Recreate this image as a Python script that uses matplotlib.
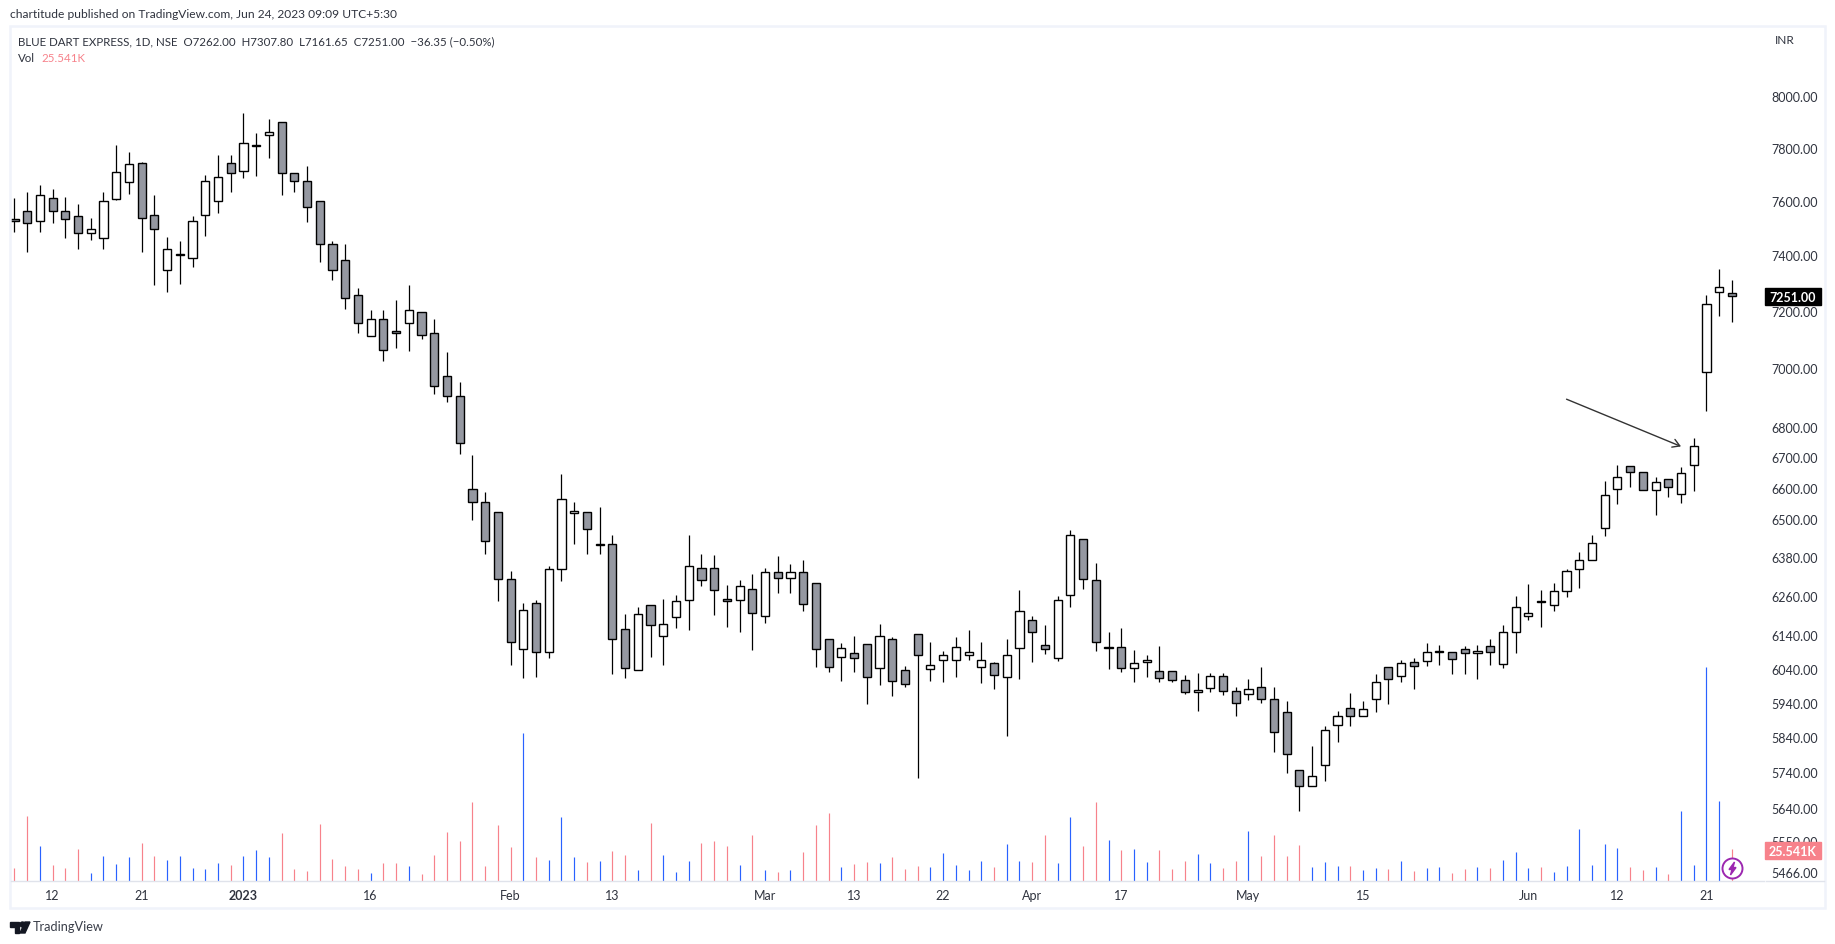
import matplotlib
matplotlib.use("Agg")
import matplotlib.pyplot as plt
from matplotlib.patches import Rectangle, Ellipse, Polygon
from matplotlib.lines import Line2D
from matplotlib.ticker import FixedLocator, FixedFormatter, NullLocator

W, H = 1835, 945

opens = [7533, 7563, 7526, 7611, 7563, 7541, 7481, 7463, 7607, 7671,
         7743, 7548, 7347, 7398, 7390, 7548, 7600, 7743, 7712, 7808,
         7850, 7900, 7705, 7675, 7600, 7441, 7383, 7257, 7111, 7172,
         7127, 7158, 7197, 7123, 6974, 6906, 6598, 6556, 6524, 6313,
         6097, 6239, 6088, 6344, 6518, 6524, 6419, 6420, 6160, 6037,
         6233, 6136, 6194, 6248, 6347, 6347, 6251, 6248, 6282, 6197,
         6332, 6316, 6332, 6298, 6127, 6076, 6085, 6112, 6043, 6127,
         6037, 6145, 6040, 6067, 6067, 6079, 6046, 6058, 6014, 6100,
         6187, 6109, 6073, 6261, 6438, 6307, 6100, 6103, 6043, 6061,
         6034, 6034, 6005, 5970, 5982, 6017, 5973, 5964, 5987, 5952,
         5914, 5748, 5701, 5762, 5874, 5923, 5900, 5952, 6046, 6017,
         6061, 6064, 6088, 6088, 6097, 6085, 6106, 6055, 6151, 6197,
         6244, 6233, 6276, 6344, 6372, 6473, 6598, 6673, 6653, 6595,
         6628, 6582, 6676, 6988, 7265, 7262]
highs = [7611, 7633, 7660, 7645, 7615, 7589, 7537, 7633, 7812, 7785,
         7745, 7622, 7467, 7449, 7544, 7697, 7773, 7773, 7935, 7857,
         7911, 7900, 7705, 7731, 7600, 7449, 7438, 7282, 7202, 7202,
         7237, 7291, 7197, 7172, 7057, 6951, 6709, 6588, 6524, 6335,
         6239, 6248, 6353, 6644, 6556, 6524, 6540, 6449, 6203, 6224,
         6233, 6251, 6261, 6448, 6391, 6385, 6292, 6307, 6326, 6347,
         6382, 6357, 6372, 6298, 6127, 6116, 6136, 6112, 6175, 6133,
         6049, 6145, 6118, 6091, 6133, 6157, 6118, 6061, 6127, 6279,
         6197, 6172, 6258, 6464, 6438, 6360, 6151, 6163, 6094, 6079,
         6106, 6034, 6020, 6028, 6028, 6026, 5985, 6008, 6046, 5987,
         5946, 5748, 5814, 5871, 5917, 5967, 5946, 6023, 6046, 6067,
         6073, 6115, 6109, 6088, 6106, 6109, 6127, 6171, 6258, 6295,
         6279, 6298, 6344, 6397, 6448, 6624, 6676, 6673, 6653, 6637,
         6628, 6667, 6765, 7257, 7348, 7307.8]
lows = [7484, 7411, 7484, 7517, 7462, 7422, 7455, 7422, 7601, 7623,
        7411, 7292, 7267, 7295, 7356, 7469, 7554, 7632, 7685, 7692,
        7761, 7621, 7632, 7521, 7375, 7310, 7206, 7121, 7111, 7025,
        7069, 7059, 7100, 6912, 6885, 6712, 6498, 6390, 6244, 6051,
        6013, 6016, 6072, 6306, 6422, 6390, 6390, 6025, 6011, 6037,
        6075, 6051, 6162, 6156, 6291, 6202, 6165, 6150, 6096, 6178,
        6269, 6269, 6214, 6045, 6031, 6004, 6031, 5937, 5992, 5960,
        5986, 5724, 6004, 6001, 6016, 6066, 5998, 5981, 5844, 6010,
        6060, 6084, 6063, 6226, 6281, 6093, 6039, 6031, 6001, 6016,
        6001, 6001, 5966, 5916, 5970, 5961, 5901, 5948, 5940, 5798,
        5739, 5631, 5701, 5716, 5827, 5873, 5900, 5913, 5937, 6001,
        5981, 6048, 6051, 6025, 6025, 6010, 6051, 6043, 6087, 6186,
        6165, 6214, 6257, 6285, 6372, 6445, 6549, 6602, 6592, 6514,
        6571, 6550, 6591, 6855, 7182, 7161.65]
closes = [7526, 7515, 7622, 7563, 7533, 7481, 7496, 7600, 7709, 7739,
          7537, 7496, 7423, 7405, 7526, 7675, 7690, 7705, 7819, 7812,
          7861, 7705, 7675, 7577, 7441, 7347, 7246, 7158, 7172, 7063,
          7123, 7201, 7116, 6940, 6906, 6746, 6556, 6429, 6313, 6118,
          6215, 6088, 6344, 6566, 6527, 6470, 6420, 6127, 6043, 6203,
          6172, 6175, 6245, 6353, 6310, 6279, 6245, 6289, 6206, 6332,
          6316, 6332, 6236, 6097, 6046, 6100, 6073, 6014, 6136, 6002,
          5996, 6079, 6052, 6079, 6103, 6088, 6067, 6020, 6079, 6212,
          6151, 6097, 6248, 6448, 6313, 6118, 6103, 6043, 6058, 6067,
          6011, 6005, 5970, 5976, 6017, 5973, 5938, 5979, 5952, 5856,
          5791, 5701, 5731, 5862, 5900, 5900, 5920, 5999, 6008, 6058,
          6049, 6088, 6091, 6070, 6085, 6091, 6088, 6151, 6224, 6206,
          6242, 6276, 6338, 6372, 6423, 6576, 6637, 6653, 6595, 6621,
          6602, 6650, 6739, 7225, 7286, 7251]
# thousands of shares
volumes = [10.7, 52.7, 28.5, 13.2, 10.7, 26.1, 6.7, 20.4, 14.0, 19.6,
           30.9, 20.4, 17.2, 20.4, 10.7, 9.9, 14.8, 13.2, 20.4, 25.3,
           19.6, 39.0, 9.9, 8.3, 46.2, 18.0, 12.4, 9.9, 6.7, 14.8,
           14.8, 12.4, 5.9, 21.2, 39.8, 32.5, 64.0, 12.4, 45.4, 27.7,
           119.6, 19.6, 17.2, 51.9, 19.6, 15.6, 16.4, 24.5, 21.2, 9.1,
           47.0, 21.2, 7.5, 16.4, 30.9, 32.5, 28.5, 13.2, 37.3, 9.1,
           7.5, 9.1, 23.6, 45.4, 55.1, 11.6, 14.0, 15.6, 14.8, 19.6,
           9.9, 12.4, 11.6, 22.8, 13.2, 9.1, 16.4, 11.6, 30.1, 16.4,
           15.6, 37.3, 14.8, 51.9, 28.5, 64.0, 33.3, 25.3, 26.1, 15.6,
           25.3, 9.9, 16.4, 22.0, 14.8, 10.7, 16.4, 40.6, 20.4, 37.3,
           20.4, 29.3, 11.6, 15.6, 12.4, 12.4, 9.1, 10.7, 9.9, 16.4,
           8.3, 10.7, 11.6, 6.7, 9.9, 11.6, 10.7, 17.2, 23.6, 10.7,
           11.6, 7.5, 12.4, 42.2, 13.2, 30.1, 26.9, 11.6, 9.1, 11.6,
           5.9, 56.7, 13.2, 172.8, 64.8, 25.541]

price_ticks = [8000, 7800, 7600, 7400, 7200, 7000, 6800, 6700, 6600, 6500, 6380,
               6260, 6140, 6040, 5940, 5840, 5740, 5640, 5550, 5466]
date_idx = [3, 10, 18, 28, 39, 47, 59, 66, 73, 80, 87, 97, 106, 119, 126, 133]
date_labels = ["12", "21", "2023", "16", "Feb", "13", "Mar", "13", "22", "Apr",
               "17", "May", "15", "Jun", "12", "21"]

TEXT = "#2f333e"
GRAY = "#9598a1"
BLUE = "#2962ff"
RED = "#f7828b"
FRAME = "#f0f3fa"
PURPLE = "#9c27b0"

plt.rcParams["font.family"] = ["Lato", "DejaVu Sans"]


def fx(x):
    return x / W


def fy(y):
    return 1 - y / H


fig = plt.figure(figsize=(W / 100, H / 100), dpi=100, facecolor="white")

left, right, top, bottom = 11, 1765, 27.5, 882
rect = [fx(left), fy(bottom), fx(right - left), (bottom - top) / H]

ax_vol = fig.add_axes(rect)
ax = fig.add_axes(rect, sharex=ax_vol)
ax.patch.set_visible(False)

x = list(range(len(opens)))
up = [c >= o for o, c in zip(opens, closes)]

# volume sits behind the candles
ax_vol.vlines(x, 0, volumes, colors=[BLUE if u else RED for u in up], lw=0.85)
ax_vol.set_ylim(0, 689)
ax_vol.axis("off")

ax.vlines(x, lows, highs, colors="black", lw=0.9, zorder=2)
ax.bar(x, [abs(c - o) for o, c in zip(opens, closes)],
       bottom=[min(o, c) for o, c in zip(opens, closes)],
       width=0.64, color=["white" if u else GRAY for u in up],
       edgecolor="black", linewidth=1.0, zorder=3)

ax.set_yscale("log")
ax.set_ylim(5442, 8278)
ax.set_xlim(-0.27, 137.6)

ax.yaxis.tick_right()
ax.yaxis.set_major_locator(FixedLocator(price_ticks))
ax.yaxis.set_major_formatter(FixedFormatter([f"{p:.2f}" for p in price_ticks]))
ax.yaxis.set_minor_locator(NullLocator())
ax.tick_params(axis="y", length=0, pad=4.5, labelsize=9, labelcolor=TEXT)
ax.set_xticks(date_idx, date_labels)
ax.tick_params(axis="x", length=0, pad=6, labelsize=9, labelcolor=TEXT)
ax.get_xticklabels()[2].set_fontweight("bold")

for s in ["top", "left", "right", "bottom"]:
    ax.spines[s].set_visible(False)

# drawn arrow from the original chart
ax.annotate("", xy=(131, 6736), xytext=(122, 6894),
            arrowprops=dict(arrowstyle="->,head_length=0.5,head_width=0.3", color="#333333",
                            lw=1.0, shrinkA=0, shrinkB=0), zorder=4)

# frame around the chart and the axis line
fig.add_artist(Rectangle((fx(10), fy(909)), fx(1815), 882 / H, transform=fig.transFigure,
                         fill=False, edgecolor=FRAME, lw=1.8))
fig.add_artist(Line2D([fx(11), fx(1764)], [fy(882), fy(882)], color="#e0e3eb", lw=1.0))
fig.add_artist(Line2D([fx(1766), fx(1824)], [fy(882), fy(882)], color="#e0e3eb", lw=1.0))

# last price and volume tags
fig.add_artist(Rectangle((fx(1765), fy(306)), fx(56), 17 / H, transform=fig.transFigure,
                         color="#000000", zorder=5))
fig.text(fx(1793), fy(297.5), "7251.00", color="white", fontsize=9, fontweight="bold",
         ha="center", va="center", zorder=6)
fig.add_artist(Rectangle((fx(1765), fy(860)), fx(56), 17 / H, transform=fig.transFigure,
                         color=RED, zorder=5))
fig.text(fx(1793), fy(851.5), "25.541K", color="white", fontsize=9, fontweight="bold",
         ha="center", va="center", zorder=6)

fig.text(fx(10), fy(14.7), "chartitude published on TradingView.com, Jun 24, 2023 09:09 UTC+5:30",
         color=TEXT, fontsize=8.65, ha="left", va="center")
fig.text(fx(18), fy(41.7),
         "BLUE DART EXPRESS, 1D, NSE  O7262.00  H7307.80  L7161.65  C7251.00  \u221236.35 (\u22120.50%)",
         color=TEXT, fontsize=8.3, ha="left", va="center")
fig.text(fx(18), fy(59), "Vol", color=TEXT, fontsize=8.3, ha="left", va="center")
fig.text(fx(41), fy(59), "25.541K", color=RED, fontsize=8.3, ha="left", va="center")
fig.text(fx(1775), fy(40.7), "INR", color=TEXT, fontsize=8.5, ha="left", va="center")
fig.text(fx(33), fy(927), "TradingView", color="#3a3e49", fontsize=9.2, ha="left", va="center")

# TradingView logo
fig.add_artist(Polygon([(fx(10), fy(923)), (fx(19), fy(923)), (fx(19), fy(934)), (fx(15), fy(934)),
                        (fx(15), fy(928)), (fx(10), fy(928))], transform=fig.transFigure,
                       color="#131722"))
fig.add_artist(Ellipse((fx(22.5), fy(925.5)), 5 / W, 5 / H, transform=fig.transFigure,
                       color="#131722"))
fig.add_artist(Polygon([(fx(25), fy(923)), (fx(30), fy(923)), (fx(25), fy(934)), (fx(20), fy(934))],
                       transform=fig.transFigure, color="#131722"))

# purple lightning badge
fig.add_artist(Ellipse((fx(1732.5), fy(869.5)), 20 / W, 20 / H, transform=fig.transFigure,
                       facecolor="white", edgecolor=PURPLE, lw=1.4, zorder=6))
bolt = [(1734.5, 863), (1729, 870.5), (1732, 870.5), (1730.5, 876), (1736, 868.5), (1733, 868.5)]
fig.add_artist(Polygon([(fx(a), fy(b)) for a, b in bolt], transform=fig.transFigure,
                       color=PURPLE, zorder=7))

fig.savefig("out.png", dpi=100)
